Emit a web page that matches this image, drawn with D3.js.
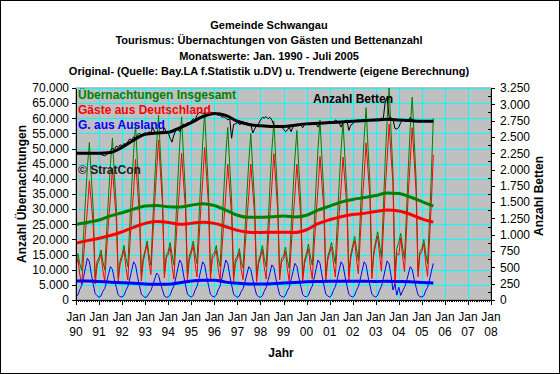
<!DOCTYPE html>
<html>
<head>
<meta charset="utf-8">
<script src="https://cdn.jsdelivr.net/npm/d3@7"></script>
<style>
  html, body { margin: 0; padding: 0; background: #fff; }
  svg { display: block; font-family: "Liberation Sans", Arial, sans-serif; }
</style>
</head>
<body>
<div id="chart"></div>
<script>
// Monthly values Jan 1990 - Jul 2005 (187 months)
const totalNights = [
  12500, 15300, 12000, 9800, 21500, 33500, 44000, 52000, 40500, 30000, 7400, 12800, // 1990
  14000, 16500, 12800, 10000, 22500, 34500, 45000, 53500, 41500, 31000, 7600, 13000, // 1991
  15000, 18000, 14000, 11000, 24500, 37500, 48500, 58000, 45000, 33500, 8200, 14000, // 1992
  16500, 19500, 15000, 11500, 25500, 39500, 51500, 61000, 47500, 35500, 8600, 14800, // 1993
  16000, 19000, 15000, 11500, 25500, 39000, 51000, 60500, 47000, 35000, 8500, 14500, // 1994
  16500, 19500, 15500, 12000, 26000, 40000, 52000, 62000, 48500, 36000, 8700, 15000, // 1995
  15500, 18000, 14000, 11000, 24000, 36500, 48000, 57000, 44500, 33000, 8000, 13500, // 1996
  14500, 17000, 13000, 10500, 23000, 35000, 46000, 55000, 43000, 32000, 7700, 13000, // 1997
  15000, 18000, 14000, 11000, 24500, 38000, 49500, 59000, 46000, 34000, 8300, 13800, // 1998
  14500, 17500, 13500, 10500, 23500, 36000, 47000, 56000, 43500, 32500, 7800, 13200, // 1999
  15500, 18500, 14500, 11500, 25000, 38500, 50000, 59500, 46500, 35000, 8300, 14300, // 2000
  16500, 19000, 15500, 12000, 25500, 38500, 49500, 58800, 46500, 35500, 8500, 15000, // 2001
  18000, 21000, 17000, 13000, 27500, 42000, 53500, 63500, 50500, 38500, 9000, 16000, // 2002
  19500, 22500, 18500, 14000, 30000, 46500, 59500, 70000, 55500, 42000, 9800, 17000, // 2003
  19000, 22000, 17500, 13500, 28500, 44000, 57000, 67000, 53000, 40000, 9400, 16000, // 2004
  17000, 20000, 15500, 12000, 26000, 42000, 60000                                    // 2005
];
const germanNights = [
  11400, 13600, 8600, 5000, 14000, 22700, 30200, 39400, 32000, 24800, 5300, 11400,
  13100, 15200, 10000, 6200, 16500, 25900, 34000, 43400, 34700, 26800, 5900, 11900,
  14000, 16500, 10800, 6600, 17600, 27700, 35900, 46400, 37200, 28700, 6300, 12700,
  15700, 18400, 12800, 8400, 20600, 32600, 42600, 52800, 42000, 32100, 7300, 13900,
  15000, 17400, 11700, 6900, 18200, 28700, 37800, 48400, 38800, 30000, 6500, 13200,
  15500, 18000, 12300, 7600, 19100, 30200, 39400, 50400, 40700, 31200, 6800, 13700,
  14500, 16400, 10700, 6400, 16700, 26200, 34800, 44900, 36300, 28000, 6000, 12200,
  13600, 15700, 10200, 6700, 17000, 26400, 35000, 44900, 36200, 27800, 6000, 11900,
  14100, 16600, 11100, 6900, 18100, 29000, 37900, 48300, 38800, 29600, 6600, 12600,
  13500, 16000, 10500, 6300, 16800, 26600, 34900, 44900, 36000, 27900, 6000, 12000,
  14400, 16900, 11200, 6900, 17700, 28200, 36800, 47400, 38300, 30000, 6300, 13000,
  15500, 17500, 12300, 7600, 18600, 28700, 36900, 47200, 38700, 30700, 6600, 13700,
  17000, 19500, 13800, 8600, 20600, 32200, 40900, 51900, 42700, 33700, 7100, 14700,
  18500, 21000, 15300, 9500, 22900, 36400, 46600, 58100, 47500, 38700, 4600, 15400,
  14800, 20500, 14500, 9300, 22500, 35400, 46000, 56900, 46200, 35800, 7700, 14900,
  16000, 18600, 12500, 7800, 19400, 32500, 47900
];
const foreignNights = [
  1100, 1700, 3400, 4800, 7500, 10800, 13800, 12600, 8500, 5200, 2100, 1400,
  900, 1300, 2800, 3800, 6000, 8600, 11000, 10100, 6800, 4200, 1700, 1100,
  1000, 1500, 3200, 4400, 6900, 9800, 12600, 11600, 7800, 4800, 1900, 1300,
  800, 1100, 2200, 3100, 4900, 6900, 8900, 8200, 5500, 3400, 1300, 900,
  1000, 1600, 3300, 4600, 7300, 10300, 13200, 12100, 8200, 5000, 2000, 1300,
  1000, 1500, 3200, 4400, 6900, 9800, 12600, 11600, 7800, 4800, 1900, 1300,
  1000, 1600, 3300, 4600, 7300, 10300, 13200, 12100, 8200, 5000, 2000, 1300,
  900, 1300, 2800, 3800, 6000, 8600, 11000, 10100, 6800, 4200, 1700, 1100,
  900, 1400, 2900, 4100, 6400, 9000, 11600, 10700, 7200, 4400, 1700, 1200,
  1000, 1500, 3000, 4200, 6700, 9400, 12100, 11100, 7500, 4600, 1800, 1200,
  1100, 1600, 3300, 4600, 7300, 10300, 13200, 12100, 8200, 5000, 2000, 1300,
  1000, 1500, 3200, 4400, 6900, 9800, 12600, 11600, 7800, 4800, 1900, 1300,
  1000, 1500, 3200, 4400, 6900, 9800, 12600, 11600, 7800, 4800, 1900, 1300,
  1000, 1500, 3200, 4500, 7100, 10100, 12900, 11900, 8000, 3300, 5200, 1600,
  4200, 1500, 3000, 4200, 6000, 8600, 11000, 10100, 6800, 4200, 1700, 1100,
  1000, 1400, 3000, 4200, 6600, 9500, 12100
];
const beds = [
  2250, 2250, 2250, 2250, 2250, 2250, 2250, 2250, 2250, 2250, 2250, 2250,
  2250, 2230, 2220, 2210, 2230, 2250, 2290, 2330, 2300, 2360, 2340, 2380,
  2360, 2400, 2380, 2430, 2470, 2450, 2500, 2480, 2530, 2560, 2520, 2550,
  2560, 2540, 2580, 2560, 2650, 2570, 2560, 2550, 2580, 2560, 2640, 2570,
  2560, 2480, 2420, 2530, 2600, 2620, 2580, 2650, 2700, 2660, 2720, 2700,
  2740, 2780, 2760, 2830, 2870, 2880, 2850, 2880, 2860, 2870, 2880, 2860,
  2850, 2860, 2830, 2840, 2800, 2810, 2790, 2760, 2780, 2480, 2690, 2700,
  2720, 2690, 2700, 2740, 2700, 2720, 2690, 2700, 2560, 2620, 2680, 2700,
  2760, 2800, 2790, 2810, 2780, 2800, 2760, 2680, 2660, 2680, 2650, 2660,
  2620, 2580, 2600, 2650, 2580, 2660, 2680, 2670, 2690, 2680, 2640, 2690,
  2700, 2710, 2690, 2700, 2720, 2700, 2650, 2720, 2700, 2710, 2720, 2710,
  2740, 2720, 2730, 2760, 2740, 2720, 2650, 2730, 2740, 2760, 2600, 2680,
  2700, 2740, 2750, 2760, 2750, 2760, 2770, 2750, 2760, 2770, 2760, 2770,
  2770, 2780, 2760, 2790, 2780, 3050, 3100, 2800, 2790, 2780, 2630, 2620,
  2650, 2720, 2750, 2760, 2740, 2760, 2800, 2760, 2750, 2750, 2740, 2750,
  2740, 2750, 2740, 2750, 2740, 2740, 2740
];

// Trend values (own calculation), half-year anchors
const trendYears = [1990, 1990.5, 1991, 1991.5, 1992, 1992.5, 1993, 1993.5, 1994, 1994.5,
  1995, 1995.5, 1996, 1996.5, 1997, 1997.5, 1998, 1998.5, 1999, 1999.5, 2000, 2000.5,
  2001, 2001.5, 2002, 2002.5, 2003, 2003.5, 2004, 2004.5, 2005, 2005.5];
const totalTrend = [25000, 25600, 26400, 27800, 28800, 30000, 31000, 31200, 30800, 30700,
  31300, 31800, 31200, 29700, 28000, 27300, 27300, 27500, 27700, 27400, 28000, 29700,
  31000, 32300, 33200, 33800, 34500, 35300, 35200, 34000, 32500, 31000];
const germanTrend = [18800, 19600, 20400, 21300, 22500, 24000, 25300, 25900, 25600, 25000,
  25300, 25700, 25300, 24200, 23000, 22400, 22300, 22400, 22400, 22300, 23200, 25200,
  26500, 27500, 28200, 28600, 29200, 29700, 29400, 28300, 26800, 25700];
const foreignTrend = [6300, 6300, 6100, 5900, 5700, 5500, 5300, 5200, 5200, 5700,
  6300, 6500, 6500, 5900, 5500, 5300, 5300, 5400, 5600, 5800, 6000, 6100,
  6200, 6200, 6200, 6200, 6100, 6200, 6100, 6000, 5800, 5600];
const bedsTrend = [2250, 2250, 2250, 2260, 2340, 2450, 2540, 2560, 2570, 2640,
  2720, 2810, 2860, 2830, 2740, 2690, 2670, 2660, 2660, 2680, 2700, 2710,
  2720, 2730, 2740, 2750, 2760, 2770, 2760, 2750, 2740, 2740];

const leftTicks = d3.range(0, 70001, 5000);
const rightTicks = d3.range(0, 3251, 250);
const yearLabels = ['90','91','92','93','94','95','96','97','98','99','00','01','02','03','04','05','06','07','08'];
const titleLines = [
  'Gemeinde Schwangau',
  'Tourismus: Übernachtungen von Gästen und Bettenanzahl',
  'Monatswerte: Jan. 1990 - Juli 2005',
  'Original- (Quelle: Bay.LA f.Statistik u.DV) u. Trendwerte (eigene Berechnung)'
];

const width = 560, height = 374;
const plot = {left: 76, right: 491, top: 88, bottom: 300};

const locale = d3.formatLocale({decimal: ',', thousands: '.', grouping: [3], currency: ['', ' €']});
const fmt = locale.format(',');

const svg = d3.select('#chart').append('svg')
  .attr('width', width)
  .attr('height', height);

svg.append('rect')
  .attr('x', 0.5).attr('y', 0.5)
  .attr('width', width - 1).attr('height', height - 1)
  .attr('fill', '#fff').attr('stroke', '#000');

const months = d3.range(totalNights.length).map(i => new Date(1990, i, 1));
const toDate = t => new Date(Math.floor(t), Math.round((t % 1) * 12), 1);

const x = d3.scaleTime()
  .domain([new Date(1990, 0, 1), new Date(2008, 0, 1)])
  .range([plot.left, plot.right]);
const yL = d3.scaleLinear().domain([0, 70000]).range([plot.bottom, plot.top]);
const yR = d3.scaleLinear().domain([0, 3250]).range([plot.bottom, plot.top]);

// plot area
svg.append('rect')
  .attr('x', plot.left).attr('y', plot.top)
  .attr('width', plot.right - plot.left).attr('height', plot.bottom - plot.top)
  .attr('fill', '#c0c0c0').attr('stroke', '#808080');

// grid
const grid = svg.append('g')
  .attr('stroke', '#00ffff')
  .attr('stroke-width', 1)
  .attr('shape-rendering', 'crispEdges');
grid.selectAll('.h').data(leftTicks.slice(1)).join('line')
  .attr('x1', plot.left).attr('x2', plot.right)
  .attr('y1', d => Math.round(yL(d)) + 0.5).attr('y2', d => Math.round(yL(d)) + 0.5);
const years = d3.timeYear.range(new Date(1990, 0, 1), new Date(2008, 0, 2));
grid.selectAll('.v').data(years.slice(1)).join('line')
  .attr('x1', d => Math.round(x(d)) + 0.5).attr('x2', d => Math.round(x(d)) + 0.5)
  .attr('y1', plot.top).attr('y2', plot.bottom);

svg.append('clipPath').attr('id', 'clip')
  .append('rect')
  .attr('x', plot.left).attr('y', plot.top - 1)
  .attr('width', plot.right - plot.left).attr('height', plot.bottom - plot.top + 1);

const lines = svg.append('g').attr('clip-path', 'url(#clip)').attr('fill', 'none');

const monthLine = (scale) => d3.line()
  .x((d, i) => x(months[i]))
  .y(d => scale(d));
const trendLine = (scale) => d3.line()
  .x((d, i) => x(toDate(trendYears[i])))
  .y(d => scale(d))
  .curve(d3.curveMonotoneX);

lines.append('path').attr('d', monthLine(yL)(totalNights)).attr('stroke', '#008000').attr('stroke-width', 1);
lines.append('path').attr('d', monthLine(yL)(germanNights)).attr('stroke', '#ff0000').attr('stroke-width', 1);
lines.append('path').attr('d', monthLine(yL)(foreignNights)).attr('stroke', '#0000ff').attr('stroke-width', 1);
lines.append('path').attr('d', monthLine(yR)(beds)).attr('stroke', '#000').attr('stroke-width', 1);

lines.append('path').attr('d', trendLine(yL)(totalTrend)).attr('stroke', '#008000').attr('stroke-width', 3);
lines.append('path').attr('d', trendLine(yL)(germanTrend)).attr('stroke', '#ff0000').attr('stroke-width', 3);
lines.append('path').attr('d', trendLine(yL)(foreignTrend)).attr('stroke', '#0000ff').attr('stroke-width', 3);
lines.append('path').attr('d', trendLine(yR)(bedsTrend)).attr('stroke', '#000').attr('stroke-width', 3);

// axes
const styleAxis = g => {
  g.selectAll('path, line').attr('stroke', '#000').attr('shape-rendering', 'crispEdges');
  g.selectAll('text').attr('font-size', 12).attr('fill', '#000').attr('font-family', '"Liberation Sans", Arial, sans-serif');
};

svg.append('g')
  .attr('transform', `translate(${plot.left},0)`)
  .call(d3.axisLeft(yL).tickValues(leftTicks).tickFormat(fmt).tickSize(4).tickSizeOuter(0).tickPadding(3))
  .call(styleAxis);

svg.append('g')
  .attr('transform', `translate(${plot.right},0)`)
  .call(d3.axisRight(yR).tickValues(rightTicks).tickFormat(fmt).tickSize(4).tickSizeOuter(0).tickPadding(5))
  .call(styleAxis);
svg.append('g')
  .attr('transform', `translate(${plot.right},0)`)
  .call(d3.axisRight(yR).tickValues(rightTicks.slice(1).map(d => d - 125)).tickFormat('').tickSize(-3).tickSizeOuter(0))
  .call(styleAxis)
  .select('.domain').remove();

svg.append('g')
  .attr('transform', `translate(0,${plot.bottom})`)
  .call(d3.axisBottom(x).ticks(d3.timeMonth.every(1)).tickFormat('').tickSize(2).tickSizeOuter(0))
  .call(styleAxis);
svg.append('g')
  .attr('transform', `translate(0,${plot.bottom})`)
  .call(d3.axisBottom(x).tickValues(years).tickFormat('').tickSize(5).tickSizeOuter(0))
  .call(styleAxis);

const xLabels = svg.append('g').attr('font-size', 12).attr('text-anchor', 'middle');
xLabels.selectAll('.jan').data(years).join('text')
  .attr('x', d => x(d)).attr('y', 321).text('Jan');
xLabels.selectAll('.yr').data(years).join('text')
  .attr('x', d => x(d)).attr('y', 336).text((d, i) => yearLabels[i]);

// titles
svg.append('g')
  .attr('font-size', 11).attr('font-weight', 'bold').attr('text-anchor', 'middle')
  .selectAll('text').data(titleLines).join('text')
  .attr('x', 269).attr('y', (d, i) => 29 + i * 15.3)
  .text(d => d);

svg.append('text')
  .attr('transform', 'translate(26,194) rotate(-90)')
  .attr('text-anchor', 'middle').attr('font-size', 12).attr('font-weight', 'bold')
  .text('Anzahl Übernachtungen');
svg.append('text')
  .attr('transform', 'translate(543,196) rotate(-90)')
  .attr('text-anchor', 'middle').attr('font-size', 12).attr('font-weight', 'bold')
  .text('Anzahl Betten');
svg.append('text')
  .attr('x', 281).attr('y', 357)
  .attr('text-anchor', 'middle').attr('font-size', 12).attr('font-weight', 'bold')
  .text('Jahr');

// in-plot legend labels
const legend = [
  {text: 'Übernachtungen Insgesamt', color: '#008000', x: 78, y: 99},
  {text: 'Gäste aus Deutschland', color: '#ff0000', x: 78, y: 114},
  {text: 'G. aus Ausland', color: '#0000ff', x: 78, y: 129},
  {text: '© StratCon', color: '#202020', x: 78, y: 174},
  {text: 'Anzahl Betten', color: '#000', x: 313, y: 103}
];
svg.append('g')
  .attr('font-size', 12).attr('font-weight', 'bold')
  .selectAll('text').data(legend).join('text')
  .attr('x', d => d.x).attr('y', d => d.y)
  .attr('fill', d => d.color)
  .text(d => d.text);
</script>
</body>
</html>
